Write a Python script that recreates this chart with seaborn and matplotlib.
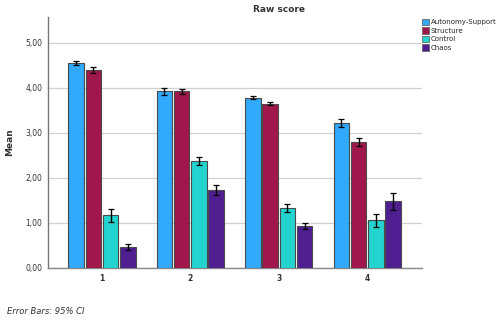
import matplotlib
matplotlib.use("Agg")
import matplotlib.pyplot as plt
import seaborn as sns
import pandas as pd
from matplotlib.patches import Patch

groups = ["1", "2", "3", "4"]
series = ["Autonomy-Support", "Structure", "Control", "Chaos"]
means = {
    "Autonomy-Support": [4.55, 3.92, 3.78, 3.22],
    "Structure":        [4.40, 3.92, 3.65, 2.80],
    "Control":          [1.17, 2.37, 1.33, 1.06],
    "Chaos":            [0.46, 1.73, 0.93, 1.48],
}
ci_half = {
    "Autonomy-Support": [0.05, 0.07, 0.04, 0.08],
    "Structure":        [0.07, 0.06, 0.03, 0.09],
    "Control":          [0.15, 0.09, 0.08, 0.14],
    "Chaos":            [0.07, 0.12, 0.07, 0.19],
}
colors = ["#31A9FC", "#A0184B", "#22D3CF", "#4F1F92"]
y_ticks = [0, 1, 2, 3, 4, 5]

rows = []
for s in series:
    for g, m in zip(groups, means[s]):
        rows.append({"group": g, "series": s, "mean": m})
df = pd.DataFrame(rows)

sns.set_style("white")
plt.rcParams["font.family"] = ["DejaVu Sans"]

fig = plt.figure(figsize=(4.98, 3.21), dpi=100)
ax = fig.add_axes([48 / 498, 1 - 268 / 321, (422 - 48) / 498, (268 - 17) / 321])

sns.barplot(data=df, x="group", y="mean", hue="series", order=groups,
            hue_order=series, palette=colors, saturation=1, width=0.78,
            gap=0.1, edgecolor="#4a4a4a", linewidth=0.8, errorbar=None,
            ax=ax, legend=False, zorder=3)

# 95% CI error bars placed at the centre of each drawn bar
for i, s in enumerate(series):
    for j, g in enumerate(groups):
        patch = ax.patches[i * len(groups) + j]
        cx = patch.get_x() + patch.get_width() / 2
        ax.errorbar(cx, means[s][j], yerr=ci_half[s][j], fmt="none",
                    ecolor="black", elinewidth=1.0, capsize=2.2,
                    capthick=0.9, zorder=4)

ax.set_xlim(-0.61, 3.62)
ax.set_ylim(0, 5.57)
ax.set_yticks(y_ticks)
ax.set_yticklabels([f"{v:.2f}".replace(".", ",") for v in y_ticks],
                   fontsize=5.5, color="#333333")
ax.set_xticks(range(len(groups)))
ax.set_xticklabels(groups, fontsize=5.5, fontweight="bold", color="#333333")
ax.tick_params(axis="both", length=0, pad=4)
ax.yaxis.grid(True, color="#d0d0d0", linewidth=0.9, zorder=0)
ax.set_axisbelow(True)
ax.set_xlabel("")
ax.set_ylabel("Mean", fontsize=6.5, fontweight="bold", color="#333333",
              labelpad=8)
for side in ["top", "right"]:
    ax.spines[side].set_visible(False)
ax.spines["left"].set_color("#777777")
ax.spines["bottom"].set_color("#888888")
ax.spines["left"].set_linewidth(1.0)
ax.spines["bottom"].set_linewidth(1.0)

fig.text(279 / 498, 1 - 10 / 321, "Raw score", ha="center", va="center",
         fontsize=6.5, fontweight="bold", color="#333333")

handles = [Patch(facecolor=c, edgecolor="#666666", linewidth=0.6, label=s)
           for c, s in zip(colors, series)]
fig.legend(handles=handles, loc="upper left",
           bbox_to_anchor=(419 / 498, 1 - 16 / 321), frameon=False,
           fontsize=5.0, handlelength=1.0, handleheight=1.0,
           handletextpad=0.3, labelspacing=0.3, borderaxespad=0)

fig.text(7 / 498, 1 - 312 / 321, "Error Bars: 95% CI", ha="left",
         va="center", fontsize=6, fontstyle="italic", color="#333333")

fig.savefig("out.png", dpi=100)
